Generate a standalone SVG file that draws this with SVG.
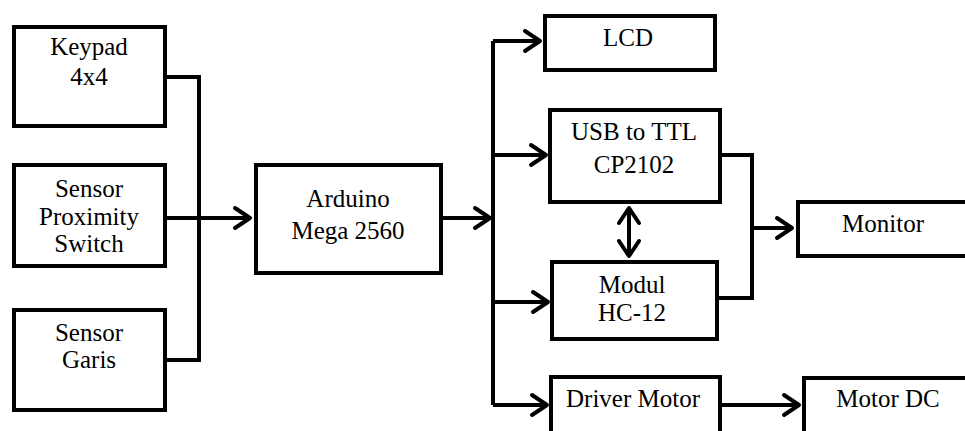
<svg xmlns="http://www.w3.org/2000/svg" width="965" height="431" viewBox="0 0 965 431">
<defs>
<style>
.box{fill:#fff;stroke:#000;stroke-width:4}
.c{fill:none;stroke:#000;stroke-width:4}
</style>
<marker id="ah" markerUnits="userSpaceOnUse" viewBox="-20 -14 24 28" refX="0" refY="0" markerWidth="24" markerHeight="28" orient="auto-start-reverse">
<path d="M-15,-10 L0,0 L-15,10" fill="none" stroke="#000" stroke-width="4" stroke-linecap="round" stroke-linejoin="round"/>
</marker>
</defs>
<rect width="965" height="431" fill="#fff"/>
<g id="connectors">
<path class="c" d="M167,77 H199 V360 H167"/>
<path class="c" marker-end="url(#ah)" d="M167,218 H250"/>
<path class="c" marker-end="url(#ah)" d="M443,218 H490"/>
<path class="c" d="M493,41 V405"/>
<path class="c" marker-end="url(#ah)" d="M493,41 H540"/>
<path class="c" marker-end="url(#ah)" d="M493,155 H546"/>
<path class="c" marker-end="url(#ah)" d="M493,302 H548"/>
<path class="c" marker-end="url(#ah)" d="M493,405 H547"/>
<path class="c" marker-start="url(#ah)" marker-end="url(#ah)" d="M629,208 V256"/>
<path class="c" d="M722,155 H752 V298 H719"/>
<path class="c" marker-end="url(#ah)" d="M752,228 H792"/>
<path class="c" marker-end="url(#ah)" d="M722,405 H799"/>
</g>
<g id="nodes" font-family="'Times New Roman', 'Liberation Serif', serif" font-size="25" text-anchor="middle" fill="#000">
<g id="keypad"><rect class="box" x="14" y="27" width="151" height="99"/><text x="89" y="55">Keypad</text><text x="89" y="85">4x4</text></g>
<g id="proximity"><rect class="box" x="14" y="165" width="151" height="101"/><text x="89" y="197">Sensor</text><text x="89" y="225">Proximity</text><text x="89" y="252">Switch</text></g>
<g id="garis"><rect class="box" x="14" y="310" width="151" height="100"/><text x="89" y="341">Sensor</text><text x="89" y="368">Garis</text></g>
<g id="arduino"><rect class="box" x="256" y="165" width="185" height="108"/><text x="348" y="207">Arduino</text><text x="348" y="239">Mega 2560</text></g>
<g id="lcd"><rect class="box" x="545" y="16" width="170" height="54"/><text x="628" y="46">LCD</text></g>
<g id="usb"><rect class="box" x="550" y="110" width="170" height="92"/><text x="634" y="140">USB to TTL</text><text x="634" y="173">CP2102</text></g>
<g id="hc12"><rect class="box" x="552" y="262" width="165" height="77"/><text x="632" y="293">Modul</text><text x="632" y="321">HC-12</text></g>
<g id="driver"><rect class="box" x="551" y="377" width="169" height="70"/><text x="633" y="407">Driver Motor</text></g>
<g id="monitor"><rect class="box" x="798" y="202" width="180" height="54"/><text x="883" y="232">Monitor</text></g>
<g id="motordc"><rect class="box" x="804" y="378" width="180" height="70"/><text x="888" y="407">Motor DC</text></g>
</g>
</svg>
